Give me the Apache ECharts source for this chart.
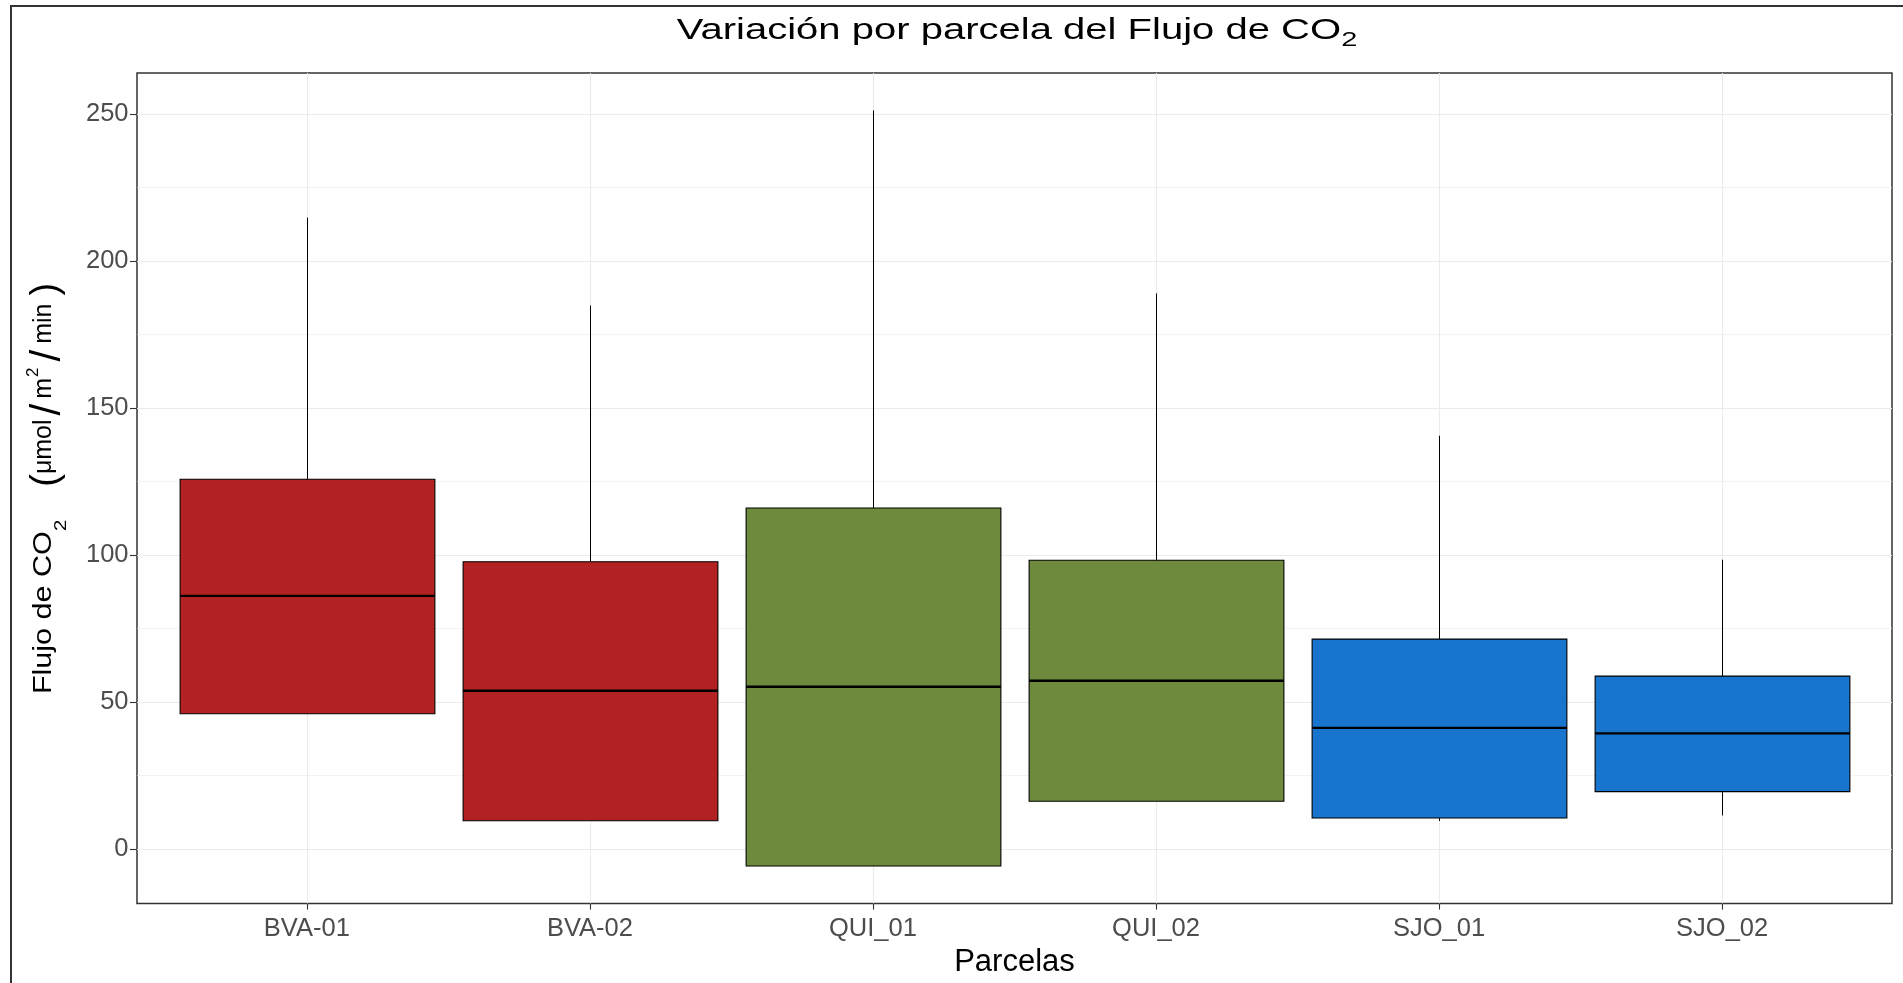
<!DOCTYPE html>
<html>
<head>
<meta charset="utf-8">
<script src="https://cdn.jsdelivr.net/npm/echarts@6/dist/echarts.min.js"></script>
<style>html,body{margin:0;padding:0;background:#fff}#chart{width:1903px;height:983px}</style>
</head>
<body>
<div id="chart"></div>
<script>
// ---- data ----
const categories = ['BVA-01', 'BVA-02', 'QUI_01', 'QUI_02', 'SJO_01', 'SJO_02'];
const groups = ['BVA', 'BVA', 'QUI', 'QUI', 'SJO', 'SJO'];
const lowerWhisker = [46.0, 9.6, -5.8, 16.2, 9.5, 11.4];
const q1 = [46.0, 9.6, -5.8, 16.2, 10.5, 19.5];
const median = [86.1, 53.8, 55.2, 57.2, 41.2, 39.3];
const q3 = [125.8, 97.7, 116.0, 98.2, 71.4, 58.8];
const upperWhisker = [214.8, 184.9, 251.3, 189.0, 140.6, 98.4];
const yTicks = [0, 50, 100, 150, 200, 250];
const yMinorTicks = [25, 75, 125, 175, 225];
const palette = { BVA: '#B22222', QUI: '#6E8B3D', SJO: '#1874CD' };

const FONT = '"Liberation Sans", Arial, sans-serif';
const xPositions = categories.map((c, i) => i + 1);
const boxData = categories.map((c, i) => [i + 1, lowerWhisker[i], q1[i], median[i], q3[i], upperWhisker[i]]);

// ---- text helpers (sub/superscripts) ----
const mctx = document.createElement('canvas').getContext('2d');
function measure(t, s) { mctx.font = s + 'px ' + FONT; return mctx.measureText(t).width; }
function buildLabel(parts) {
  let x = 0; const items = [];
  parts.forEach(p => {
    const sx = p.sx || 1;
    items.push({ x: x, p: p, sx: sx });
    x += measure(p.t, p.s) * sx + (p.gap || 0);
  });
  const half = x / 2;
  return items.map(it => ({
    type: 'text', x: it.x - half, y: (it.p.dy || 0) - 0.345 * it.p.s, scaleX: it.sx, silent: true,
    style: { text: it.p.t, font: it.p.s + 'px ' + FONT, fill: '#000', align: 'left', verticalAlign: 'middle' }
  }));
}

const titleParts = [
  { t: 'Variación por parcela del Flujo de CO', s: 29, sx: 1.38 },
  { t: '2', s: 21, sx: 1.38, dy: 6.9 }
];
const yTitleParts = [
  { t: 'Flujo de CO', s: 26, sx: 1.175 },
  { t: '2', s: 17, sx: 1.2, dy: 14.4, gap: 33 },
  { t: '(', s: 38, dy: 6.9 },
  { t: 'μmol', s: 25, gap: 4 },
  { t: '/', s: 42, dy: 10, gap: 5 },
  { t: 'm', s: 25, gap: 1 },
  { t: '2', s: 17, dy: -14, gap: 6 },
  { t: '/', s: 42, dy: 10, gap: 6 },
  { t: 'min', s: 25, gap: 8 },
  { t: ')', s: 38, dy: 6.9 }
];

function renderItem(params, api) {
  const i = params.dataIndex;
  const x = api.value(0);
  const w = api.size([0.9, 0])[0];
  const cx = Math.round(api.coord([x, api.value(3)])[0]) + 0.5;
  const y = k => api.coord([x, api.value(k)])[1];
  const yLo = y(1), yQ1 = y(2), yMed = y(3), yQ3 = y(4), yHi = y(5);
  const color = palette[groups[i]];
  return {
    type: 'group',
    children: [
      { type: 'line', shape: { x1: cx, y1: yQ3, x2: cx, y2: yHi }, style: { stroke: '#000', lineWidth: 1 } },
      { type: 'line', shape: { x1: cx, y1: yQ1, x2: cx, y2: yLo }, style: { stroke: '#000', lineWidth: 1 } },
      { type: 'rect', shape: { x: cx - w / 2, y: yQ3, width: w, height: yQ1 - yQ3 }, style: { fill: color, stroke: '#000', lineWidth: 1.1 } },
      { type: 'line', shape: { x1: cx - w / 2, y1: yMed, x2: cx + w / 2, y2: yMed }, style: { stroke: '#000', lineWidth: 2.4 } }
    ]
  };
}

const chart = echarts.init(document.getElementById('chart'), null, { renderer: 'canvas' });
const option = {
  animation: false,
  backgroundColor: '#ffffff',
  grid: { left: 137, right: 11, top: 73, bottom: 75.3, show: true, borderColor: '#333333', borderWidth: 1.5, backgroundColor: 'transparent' },
  xAxis: {
    type: 'value', min: 0.4, max: 6.6,
    axisLine: { show: false, onZero: false },
    axisTick: { show: true, length: 6, lineStyle: { color: '#333333', width: 1.1 }, customValues: xPositions },
    axisLabel: { customValues: xPositions, formatter: v => categories[Math.round(v) - 1], fontSize: 25.5, fontFamily: FONT, color: '#4D4D4D', margin: 12.5 },
    splitLine: { show: true, lineStyle: { color: '#EBEBEB', width: 1.1 } },
    name: 'Parcelas', nameLocation: 'middle', nameGap: 43,
    nameTextStyle: { fontSize: 31, fontFamily: FONT, color: '#000' }
  },
  yAxis: [
    {
      type: 'value', min: -18.6, max: 264,
      axisLine: { show: false, onZero: false },
      axisTick: { show: true, length: 7, lineStyle: { color: '#333333', width: 1.1 }, customValues: yTicks },
      axisLabel: { customValues: yTicks, fontSize: 25.5, fontFamily: FONT, color: '#4D4D4D', margin: 8.5, padding: [7, 0, 0, 0] },
      splitLine: { show: true, lineStyle: { color: '#EBEBEB', width: 1.1 } }
    },
    {
      type: 'value', min: -18.6, max: 264, position: 'left',
      axisLine: { show: false, onZero: false },
      axisTick: { show: false, customValues: yMinorTicks },
      axisLabel: { show: false, customValues: yMinorTicks },
      splitLine: { show: true, lineStyle: { color: '#EBEBEB', width: 0.6 } }
    }
  ],
  graphic: {
    elements: [
      { type: 'rect', silent: true, shape: { x: 11, y: 6, width: 3000, height: 3000 }, style: { fill: 'none', stroke: '#333333', lineWidth: 2 } },
      { type: 'group', x: 1017, y: 41, children: buildLabel(titleParts) },
      { type: 'group', x: 52.8, y: 488.5, rotation: Math.PI / 2, children: buildLabel(yTitleParts) }
    ]
  },
  series: [{
    type: 'custom', renderItem: renderItem, data: boxData,
    encode: { x: 0, y: [1, 2, 3, 4, 5] }, clip: false, z: 10
  }]
};
chart.setOption(option);
</script>
</body>
</html>
